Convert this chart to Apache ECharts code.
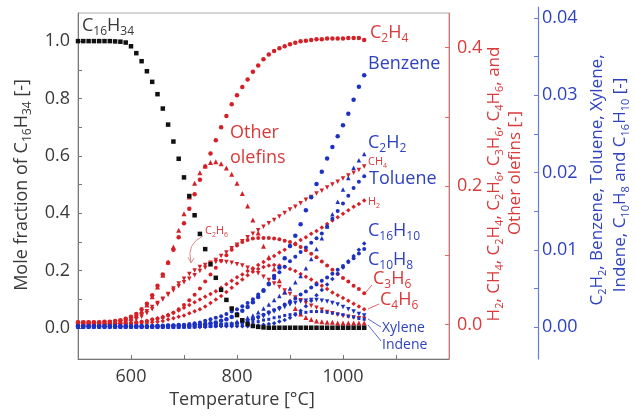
<!DOCTYPE html>
<html>
<head>
<meta charset="utf-8">
<script src="https://cdn.jsdelivr.net/npm/echarts@6/dist/echarts.min.js"></script>
<style>
html, body { margin: 0; padding: 0; background: #fff; }
#chart { width: 636px; height: 417px; }
</style>
</head>
<body>
<div id="chart"></div>
<script>
// temperatures [°C]
const temps = [500,510,520,530,540,550,560,570,580,590,
  600,610,620,630,640,650,660,670,680,690,
  700,710,720,730,740,750,760,770,780,790,
  800,810,820,830,840,850,860,870,880,890,
  900,910,920,930,940,950,960,970,980,990,
  1000,1010,1020,1030,1040];

// left axis
const c16h34 = [1.000,1.000,1.000,1.000,1.000,1.000,1.000,0.999,0.998,0.995,
  0.982,0.958,0.930,0.895,0.858,0.815,0.765,0.709,0.650,0.590,
  0.525,0.460,0.393,0.328,0.275,0.222,0.175,0.133,0.098,0.068,
  0.045,0.027,0.014,0.007,0.004,0.002,0.001,0.001,0.001,0.001,
  0.001,0.001,0.001,0.001,0.001,0.001,0.001,0.001,0.001,0.001,
  0.001,0.001,0.001,0.001,0.001];

// red axis
const c2h4 = [0.003,0.003,0.003,0.003,0.003,0.004,0.004,0.005,0.006,0.008,
  0.011,0.015,0.022,0.030,0.042,0.056,0.072,0.089,0.108,0.126,
  0.146,0.167,0.188,0.209,0.228,0.247,0.266,0.285,0.301,0.318,
  0.331,0.343,0.354,0.365,0.374,0.383,0.390,0.395,0.399,0.402,
  0.405,0.407,0.409,0.410,0.411,0.412,0.412,0.413,0.413,0.413,
  0.413,0.414,0.414,0.414,0.411];
const olefins = [0.002,0.002,0.002,0.002,0.002,0.003,0.003,0.004,0.005,0.006,
  0.009,0.013,0.019,0.028,0.040,0.054,0.071,0.090,0.112,0.136,
  0.160,0.184,0.204,0.219,0.229,0.234,0.235,0.232,0.226,0.217,
  0.204,0.189,0.171,0.151,0.132,0.113,0.097,0.080,0.063,0.047,
  0.034,0.023,0.015,0.010,0.007,0.005,0.004,0.003,0.003,0.002,
  0.002,0.002,0.002,0.002,0.002];
const ch4 = [0.002,0.002,0.002,0.002,0.002,0.002,0.003,0.003,0.004,0.005,
  0.007,0.010,0.014,0.019,0.025,0.031,0.037,0.043,0.049,0.055,
  0.061,0.066,0.071,0.077,0.082,0.088,0.093,0.099,0.104,0.110,
  0.115,0.120,0.126,0.131,0.136,0.141,0.146,0.151,0.156,0.161,
  0.166,0.170,0.175,0.180,0.184,0.189,0.193,0.198,0.202,0.206,
  0.211,0.215,0.219,0.223,0.228];
const h2 = [0.001,0.001,0.001,0.001,0.001,0.001,0.001,0.001,0.001,0.001,
  0.002,0.003,0.004,0.005,0.007,0.009,0.011,0.014,0.017,0.020,
  0.024,0.028,0.032,0.036,0.040,0.044,0.048,0.053,0.058,0.063,
  0.068,0.072,0.077,0.081,0.086,0.090,0.095,0.099,0.104,0.108,
  0.113,0.117,0.122,0.126,0.131,0.135,0.140,0.145,0.150,0.155,
  0.160,0.165,0.170,0.174,0.179];
const c2h6 = [0.001,0.001,0.001,0.001,0.001,0.001,0.001,0.002,0.002,0.003,
  0.004,0.007,0.011,0.016,0.022,0.029,0.036,0.044,0.052,0.059,
  0.066,0.073,0.078,0.083,0.086,0.089,0.090,0.091,0.090,0.089,
  0.087,0.085,0.082,0.078,0.074,0.069,0.064,0.059,0.054,0.049,
  0.044,0.039,0.035,0.031,0.027,0.024,0.021,0.018,0.016,0.014,
  0.012,0.011,0.010,0.009,0.008];
const c3h6 = [0.001,0.001,0.001,0.001,0.001,0.001,0.001,0.001,0.001,0.001,
  0.002,0.003,0.004,0.005,0.007,0.008,0.010,0.013,0.017,0.022,
  0.028,0.035,0.043,0.052,0.062,0.072,0.082,0.092,0.100,0.108,
  0.114,0.119,0.122,0.124,0.125,0.125,0.125,0.124,0.123,0.121,
  0.119,0.116,0.112,0.107,0.102,0.097,0.091,0.085,0.079,0.073,
  0.067,0.062,0.056,0.051,0.045];
const c4h6 = [0.001,0.001,0.001,0.001,0.001,0.001,0.001,0.001,0.001,0.001,
  0.001,0.001,0.002,0.002,0.003,0.004,0.005,0.007,0.009,0.011,
  0.013,0.016,0.019,0.022,0.026,0.031,0.036,0.041,0.047,0.053,
  0.059,0.065,0.071,0.076,0.080,0.083,0.085,0.086,0.085,0.083,
  0.080,0.077,0.073,0.069,0.065,0.060,0.056,0.051,0.046,0.042,
  0.038,0.034,0.030,0.026,0.022];

// blue axis
const benzene = [0.0001,0.0001,0.0001,0.0001,0.0001,0.0001,0.0001,0.0001,0.0001,0.0001,
  0.0001,0.0001,0.0001,0.0001,0.0001,0.0001,0.0001,0.0002,0.0002,0.0002,
  0.0002,0.0002,0.0003,0.0003,0.0004,0.0005,0.0006,0.0008,0.0010,0.0013,
  0.0017,0.0021,0.0026,0.0032,0.0039,0.0047,0.0056,0.0066,0.0077,0.0089,
  0.0105,0.0118,0.0133,0.0151,0.0168,0.0185,0.0201,0.0218,0.0233,0.0247,
  0.0261,0.0276,0.0294,0.0311,0.0326];
const c2h2 = [0.0001,0.0001,0.0001,0.0001,0.0001,0.0001,0.0001,0.0001,0.0001,0.0001,
  0.0001,0.0001,0.0001,0.0001,0.0001,0.0001,0.0001,0.0001,0.0001,0.0001,
  0.0001,0.0001,0.0001,0.0002,0.0002,0.0002,0.0003,0.0003,0.0004,0.0005,
  0.0007,0.0009,0.0012,0.0015,0.0019,0.0024,0.0029,0.0035,0.0040,0.0045,
  0.0050,0.0058,0.0066,0.0076,0.0088,0.0101,0.0115,0.0130,0.0146,0.0162,
  0.0178,0.0193,0.0206,0.0216,0.0224];
const toluene = [0.0001,0.0001,0.0001,0.0001,0.0001,0.0001,0.0001,0.0001,0.0001,0.0001,
  0.0001,0.0001,0.0001,0.0001,0.0001,0.0002,0.0002,0.0002,0.0002,0.0003,
  0.0003,0.0004,0.0005,0.0006,0.0008,0.0010,0.0012,0.0014,0.0017,0.0020,
  0.0023,0.0027,0.0031,0.0036,0.0042,0.0048,0.0055,0.0063,0.0071,0.0078,
  0.0085,0.0091,0.0097,0.0103,0.0109,0.0115,0.0121,0.0130,0.0140,0.0150,
  0.0160,0.0170,0.0180,0.0188,0.0195];
const c16h10 = [0,0,0,0,0,0,0,0,0,0,
  0,0,0,0,0,0,0,0,0,0,
  0,0,0,0,0,0.0001,0.0001,0.0001,0.0001,0.0001,
  0.0001,0.0001,0.0001,0.0002,0.0002,0.0003,0.0004,0.0005,0.0007,0.0009,
  0.0012,0.0016,0.0021,0.0027,0.0034,0.0041,0.0048,0.0055,0.0062,0.0069,
  0.0077,0.0085,0.0092,0.0100,0.0108];
const c10h8 = [0,0,0,0,0,0,0,0,0,0,
  0,0,0,0,0,0,0,0,0,0,
  0.0001,0.0001,0.0001,0.0001,0.0002,0.0002,0.0002,0.0003,0.0003,0.0004,
  0.0005,0.0006,0.0008,0.0010,0.0013,0.0016,0.0019,0.0022,0.0025,0.0029,
  0.0033,0.0037,0.0042,0.0046,0.0051,0.0055,0.0060,0.0064,0.0069,0.0074,
  0.0079,0.0084,0.0089,0.0095,0.0101];
const xylene = [0,0,0,0,0,0,0,0,0,0,
  0,0,0,0,0,0,0,0,0,0,
  0.0001,0.0001,0.0001,0.0001,0.0001,0.0002,0.0002,0.0002,0.0003,0.0003,
  0.0004,0.0005,0.0007,0.0009,0.0011,0.0014,0.0017,0.0020,0.0023,0.0026,
  0.0029,0.0031,0.0033,0.0034,0.0035,0.0035,0.0034,0.0033,0.0031,0.0029,
  0.0026,0.0023,0.0020,0.0017,0.0015];
const indene = [0,0,0,0,0,0,0,0,0,0,
  0,0,0,0,0,0,0,0,0,0,
  0,0,0.0001,0.0001,0.0001,0.0001,0.0001,0.0002,0.0002,0.0002,
  0.0003,0.0004,0.0005,0.0006,0.0007,0.0009,0.0010,0.0012,0.0013,0.0015,
  0.0016,0.0017,0.0018,0.0019,0.0020,0.0020,0.0020,0.0019,0.0018,0.0017,
  0.0016,0.0014,0.0013,0.0011,0.0010];

// ticks and labels
const xTicks = [600,700,800,900,1000,1100];
const xLabels = [600,800,1000];
const leftTicks = [0,0.1,0.2,0.3,0.4,0.5,0.6,0.7,0.8,0.9,1.0];
const leftLabels = [0,0.2,0.4,0.6,0.8,1.0];
const redTicks = [0,0.1,0.2,0.3,0.4];
const redLabels = [0,0.2,0.4];
const blueTicks = [0,0.005,0.01,0.015,0.02,0.025,0.03,0.035,0.04];
const blueLabels = [0,0.01,0.02,0.03,0.04];

const RED = '#d42027', BLUE = '#1d32c2';
const RED_T = '#d93a3a', BLUE_T = '#2f43c0', GREY_T = '#3a3a3a';
const FONT = "'Open Sans', sans-serif";

const chart = echarts.init(document.getElementById('chart'));

function pts(vals) {
  return temps.map((t, i) => [t, vals[i]]);
}

function sc(name, vals, xi, yi, color, symbol, size, rot) {
  return {
    name: name, type: 'scatter', xAxisIndex: xi, yAxisIndex: yi,
    data: pts(vals), symbol: symbol, symbolSize: size, symbolRotate: rot || 0,
    itemStyle: { color: color, opacity: 1 }, silent: true
  };
}

// 'C_2H_4' -> rich tokens with subscripts
function richStr(str) {
  return str.split(/(_\d+)/).filter(s => s).map(s =>
    s[0] === '_' ? '{s|' + s.slice(1) + '}' : '{n|' + s + '}').join('');
}

function txt(str, x, y, color, size, rotate, align) {
  return {
    type: 'text', x: x, y: y, rotation: rotate ? Math.PI / 2 : 0, z: 10,
    style: {
      text: richStr(str), fill: color, align: align || 'left', verticalAlign: 'middle',
      rich: {
        n: { fontSize: size, fontFamily: FONT, fill: color, lineHeight: Math.round(size * 1.3), verticalAlign: 'middle' },
        s: { fontSize: Math.round(size * 0.65), fontFamily: FONT, fill: color, lineHeight: Math.round(size * 0.65), verticalAlign: 'bottom' }
      }
    }
  };
}

function ln(x1, y1, x2, y2, color) {
  return { type: 'line', z: 10, shape: { x1: x1, y1: y1, x2: x2, y2: y2 }, style: { stroke: color, lineWidth: 0.8 } };
}

const axisFont = { fontSize: 18, fontFamily: FONT };

const option = {
  animation: false,
  backgroundColor: '#fff',
  grid: [
    { left: 78, right: 187, top: 13, bottom: 58, show: true, borderColor: '#aaa', borderWidth: 1 },
    { left: 78, right: 187, top: 7, bottom: 58, show: false }
  ],
  xAxis: [
    {
      gridIndex: 0, type: 'value', min: 500, max: 1200,
      axisLine: { show: true, onZero: false, lineStyle: { color: '#777', width: 1 } },
      axisTick: { show: true, inside: true, length: 4, customValues: xTicks, lineStyle: { color: '#777' } },
      axisLabel: Object.assign({ customValues: xLabels, formatter: v => String(v), color: GREY_T, margin: 9 }, axisFont),
      splitLine: { show: false }
    },
    { gridIndex: 1, type: 'value', min: 500, max: 1200, show: false }
  ],
  yAxis: [
    {
      gridIndex: 0, position: 'left', min: -0.108, max: 1.098,
      axisLine: { show: true, onZero: false, lineStyle: { color: '#777', width: 1 } },
      axisTick: { show: true, inside: true, length: 4, customValues: leftTicks, lineStyle: { color: '#777' } },
      axisLabel: Object.assign({ customValues: leftLabels, formatter: v => v.toFixed(1), color: GREY_T, margin: 8 }, axisFont),
      splitLine: { show: false }
    },
    {
      gridIndex: 0, position: 'right', min: -0.05, max: 0.45,
      axisLine: { show: true, onZero: false, lineStyle: { color: '#e06a6a', width: 1 } },
      axisTick: { show: true, inside: true, length: 4, customValues: redTicks, lineStyle: { color: '#e06a6a' } },
      axisLabel: Object.assign({ customValues: redLabels, formatter: v => v.toFixed(1), color: RED_T, margin: 8 }, axisFont),
      splitLine: { show: false }
    },
    {
      gridIndex: 1, position: 'right', offset: 89, min: -0.00414, max: 0.04142,
      axisLine: { show: true, onZero: false, lineStyle: { color: '#6a7ad8', width: 1.2 } },
      axisTick: { show: true, inside: true, length: 4, customValues: blueTicks, lineStyle: { color: '#6a7ad8' } },
      axisLabel: Object.assign({ customValues: blueLabels, formatter: v => v.toFixed(2), color: BLUE_T, margin: 4 }, axisFont),
      splitLine: { show: false }
    }
  ],
  series: [
    sc('C2H4', c2h4, 0, 1, RED, 'circle', 4.5),
    sc('Other olefins', olefins, 0, 1, RED, 'triangle', 5),
    sc('CH4', ch4, 0, 1, RED, 'triangle', 4.5, 180),
    sc('H2', h2, 0, 1, RED, 'diamond', 4.5),
    sc('C2H6', c2h6, 0, 1, RED, 'triangle', 4.5, 180),
    sc('C3H6', c3h6, 0, 1, RED, 'circle', 4),
    sc('C4H6', c4h6, 0, 1, RED, 'diamond', 4.5),
    sc('Benzene', benzene, 1, 2, BLUE, 'circle', 4.5),
    sc('C2H2', c2h2, 1, 2, BLUE, 'triangle', 4.5),
    sc('Toluene', toluene, 1, 2, BLUE, 'circle', 4),
    sc('C16H10', c16h10, 1, 2, BLUE, 'diamond', 4.5),
    sc('C10H8', c10h8, 1, 2, BLUE, 'circle', 4),
    sc('Xylene', xylene, 1, 2, BLUE, 'triangle', 4.5, 180),
    sc('Indene', indene, 1, 2, BLUE, 'rect', 3),
    sc('C16H34', c16h34, 0, 0, '#111', 'rect', 4.5)
  ],
  graphic: [
    txt('C_16H_34', 82, 26, GREY_T, 18),
    txt('C_2H_4', 370, 33, RED_T, 18),
    txt('Benzene', 368, 64, BLUE_T, 18),
    txt('C_2H_2', 368, 143, BLUE_T, 18),
    txt('CH_4', 368, 162, RED_T, 11),
    txt('Toluene', 369, 179, BLUE_T, 18),
    txt('H_2', 368, 202, RED_T, 11),
    txt('C_16H_10', 368, 231, BLUE_T, 18),
    txt('C_10H_8', 368, 260, BLUE_T, 18),
    txt('C_3H_6', 373, 279, RED_T, 18),
    txt('C_4H_6', 380, 300, RED_T, 18),
    txt('Xylene', 382, 328, BLUE_T, 14),
    txt('Indene', 382, 345, BLUE_T, 14),
    txt('Other', 230, 133, RED_T, 18),
    txt('olefins', 230, 158, RED_T, 18),
    txt('C_2H_6', 205, 231, RED_T, 11),
    ln(372, 285, 366, 292, RED_T),
    ln(379, 304, 368, 309, RED_T),
    ln(381, 327, 368, 319, BLUE_T),
    ln(381, 341, 368, 325, BLUE_T),
    { type: 'bezierCurve', z: 10, shape: { x1: 203, y1: 236, cpx1: 186, cpy1: 244, x2: 191, y2: 262 }, style: { stroke: '#d07070', lineWidth: 0.8, fill: null } },
    { type: 'polyline', z: 10, shape: { points: [[188, 257], [191, 263], [194, 258]] }, style: { stroke: '#d07070', lineWidth: 0.8, fill: null } },
    // axis titles
    txt('Mole fraction of C_16H_34 [-]', 22, 185, GREY_T, 18, true, 'center'),
    txt('Temperature [°C]', 242, 400, GREY_T, 18, false, 'center'),
    txt('H_2, CH_4, C_2H_4, C_2H_6, C_3H_6, C_4H_6, and', 494, 184, RED_T, 17, true, 'center'),
    txt('Other olefins [-]', 515, 173, RED_T, 17, true, 'center'),
    txt('C_2H_2, Benzene, Toluene, Xylene,', 597, 180, BLUE_T, 17, true, 'center'),
    txt('Indene, C_10H_8 and C_16H_10 [-]', 620, 185, BLUE_T, 17, true, 'center')
  ]
};

chart.setOption(option);
</script>
</body>
</html>
